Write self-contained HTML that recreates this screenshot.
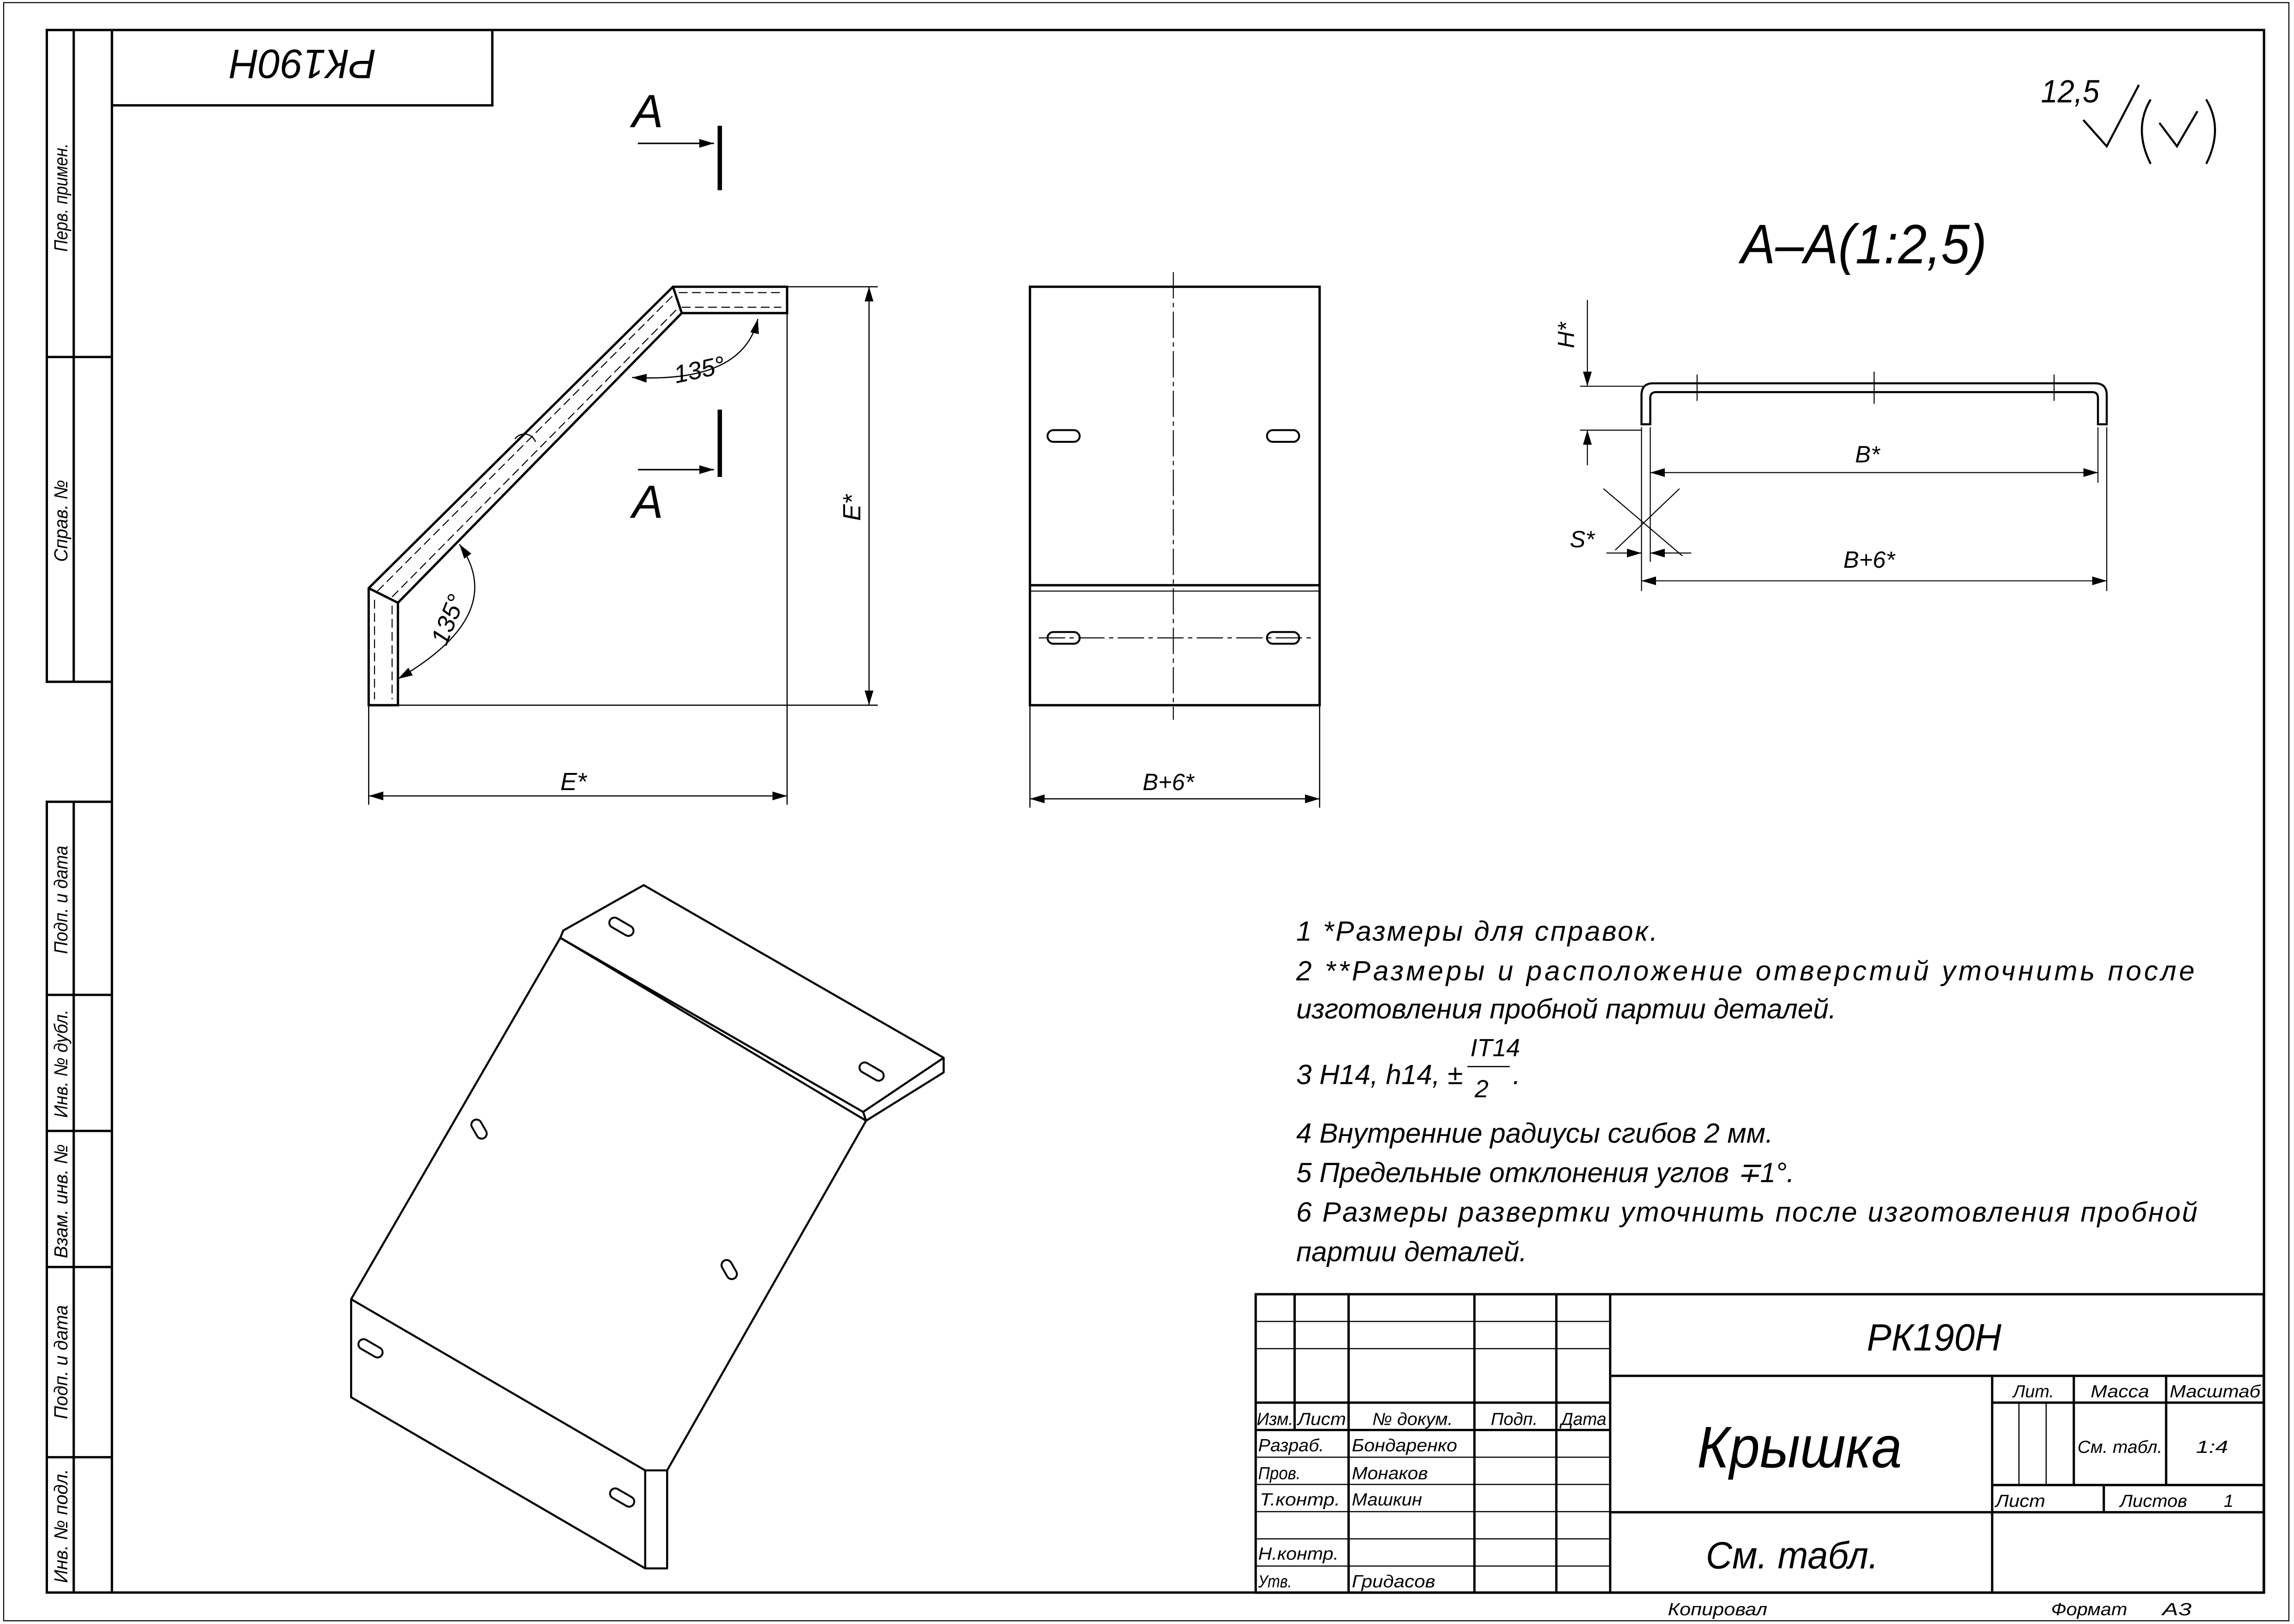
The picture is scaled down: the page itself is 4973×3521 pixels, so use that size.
<!DOCTYPE html>
<html><head><meta charset="utf-8"><style>
html,body{margin:0;padding:0;background:#fff;}
svg{display:block;}
text{font-family:"Liberation Sans",sans-serif;font-style:italic;fill:#000;}
</style></head><body>
<svg width="4973" height="3521" viewBox="0 0 1568 1110" preserveAspectRatio="none" xmlns="http://www.w3.org/2000/svg">
<defs>
<marker id="ar" viewBox="0 0 10 6" refX="10" refY="3" markerWidth="10" markerHeight="6" orient="auto-start-reverse" markerUnits="userSpaceOnUse"><path d="M0,0 L10,3 L0,6 Z" fill="#000"/></marker>
</defs>
<rect x="0" y="0" width="1568" height="1110" fill="#fff"/>
<rect x="2.5" y="1.8" width="1562" height="1106" fill="none" stroke="#000" stroke-width="0.7"/>
<g fill="none" stroke="#000" stroke-width="1.6">
<rect x="76.5" y="20.5" width="1471" height="1068"/>
<rect x="76.5" y="20.5" width="260" height="51.5"/>
<polyline points="76.5,20.5 32,20.5 32,466 76.5,466"/>
<line x1="50.4" y1="20.5" x2="50.4" y2="466"/>
<line x1="32" y1="244" x2="76.5" y2="244"/>
<polyline points="76.5,548 32,548 32,1088.5 76.5,1088.5"/>
<line x1="50.4" y1="548" x2="50.4" y2="1088.5"/>
<line x1="32" y1="680" x2="76.5" y2="680"/>
<line x1="32" y1="773" x2="76.5" y2="773"/>
<line x1="32" y1="866" x2="76.5" y2="866"/>
<line x1="32" y1="996" x2="76.5" y2="996"/>
<rect x="858.3" y="884.6" width="689" height="204"/>
<line x1="1100.6" y1="884.6" x2="1100.6" y2="1088.6"/>
<line x1="1100.6" y1="940.4" x2="1547.3" y2="940.4"/>
<line x1="858.3" y1="958.7" x2="1100.6" y2="958.7"/>
<line x1="858.3" y1="977.4" x2="1100.6" y2="977.4"/>
<line x1="1100.6" y1="1033.6" x2="1547.3" y2="1033.6"/>
<line x1="1361.7" y1="940.4" x2="1361.7" y2="1088.6"/>
<line x1="1361.7" y1="958.7" x2="1547.3" y2="958.7"/>
<line x1="1361.7" y1="1015" x2="1547.3" y2="1015"/>
<line x1="1417.5" y1="940.4" x2="1417.5" y2="1015"/>
<line x1="1480.6" y1="940.4" x2="1480.6" y2="1015"/>
<line x1="1438" y1="1015" x2="1438" y2="1033.6"/>
<line x1="921.8" y1="884.6" x2="921.8" y2="1088.6"/>
<line x1="1007.8" y1="884.6" x2="1007.8" y2="1088.6"/>
<line x1="1063.8" y1="884.6" x2="1063.8" y2="1088.6"/>
<line x1="884.9" y1="884.6" x2="884.9" y2="977.4"/>
</g>
<g stroke="#000" stroke-width="0.8" fill="none">
<line x1="858.3" y1="903.2" x2="1100.6" y2="903.2"/>
<line x1="858.3" y1="921.8" x2="1100.6" y2="921.8"/>
<line x1="858.3" y1="996" x2="1100.6" y2="996"/>
<line x1="858.3" y1="1014.6" x2="1100.6" y2="1014.6"/>
<line x1="858.3" y1="1033.2" x2="1100.6" y2="1033.2"/>
<line x1="858.3" y1="1051.8" x2="1100.6" y2="1051.8"/>
<line x1="858.3" y1="1070.4" x2="1100.6" y2="1070.4"/>
<line x1="1380" y1="958.7" x2="1380" y2="1015"/>
<line x1="1398.6" y1="958.7" x2="1398.6" y2="1015"/>
</g>
<g font-size="12">
<text x="859" y="974" textLength="25" lengthAdjust="spacingAndGlyphs">Изм.</text>
<text x="887" y="974" textLength="33" lengthAdjust="spacingAndGlyphs">Лист</text>
<text x="938" y="974" textLength="55" lengthAdjust="spacingAndGlyphs">№ докум.</text>
<text x="1019" y="974" textLength="32" lengthAdjust="spacingAndGlyphs">Подп.</text>
<text x="1067" y="974" textLength="31" lengthAdjust="spacingAndGlyphs">Дата</text>
<text x="860" y="992" textLength="45" lengthAdjust="spacingAndGlyphs">Разраб.</text>
<text x="924" y="992" textLength="72" lengthAdjust="spacingAndGlyphs">Бондаренко</text>
<text x="860" y="1011" textLength="29" lengthAdjust="spacingAndGlyphs">Пров.</text>
<text x="924" y="1011" textLength="52" lengthAdjust="spacingAndGlyphs">Монаков</text>
<text x="861" y="1029" textLength="55" lengthAdjust="spacingAndGlyphs">Т.контр.</text>
<text x="924" y="1029" textLength="48" lengthAdjust="spacingAndGlyphs">Машкин</text>
<text x="860" y="1066" textLength="55" lengthAdjust="spacingAndGlyphs">Н.контр.</text>
<text x="860" y="1085" textLength="23" lengthAdjust="spacingAndGlyphs">Утв.</text>
<text x="924" y="1085" textLength="57" lengthAdjust="spacingAndGlyphs">Гридасов</text>
<text x="1376" y="955" textLength="28" lengthAdjust="spacingAndGlyphs">Лит.</text>
<text x="1429" y="955" textLength="40" lengthAdjust="spacingAndGlyphs">Масса</text>
<text x="1483" y="955" textLength="62" lengthAdjust="spacingAndGlyphs">Масштаб</text>
<text x="1420" y="993" textLength="58" lengthAdjust="spacingAndGlyphs">См. табл.</text>
<text x="1501" y="993" textLength="22" lengthAdjust="spacingAndGlyphs">1:4</text>
<text x="1364" y="1030" textLength="34" lengthAdjust="spacingAndGlyphs">Лист</text>
<text x="1449" y="1030" textLength="46" lengthAdjust="spacingAndGlyphs">Листов</text>
<text x="1520" y="1030">1</text>
<text x="1140" y="1104" textLength="68" lengthAdjust="spacingAndGlyphs">Копировал</text>
<text x="1402" y="1104" textLength="52" lengthAdjust="spacingAndGlyphs">Формат</text>
<text x="1478" y="1104" textLength="20" lengthAdjust="spacingAndGlyphs">А3</text>
</g>
<text x="1276" y="923" font-size="26" textLength="92" lengthAdjust="spacingAndGlyphs">РК190Н</text>
<text x="1160" y="1003" font-size="40" textLength="140" lengthAdjust="spacingAndGlyphs">Крышка</text>
<text x="1166" y="1072" font-size="26" textLength="118" lengthAdjust="spacingAndGlyphs">См. табл.</text>
<text transform="translate(207,46) rotate(180)" x="-50" y="12" font-size="28" textLength="100" lengthAdjust="spacingAndGlyphs">РК190Н</text>
<g font-size="13">
<text transform="translate(46,172) rotate(-90)" textLength="74" lengthAdjust="spacingAndGlyphs">Перв. примен.</text>
<text transform="translate(46,384) rotate(-90)" textLength="56" lengthAdjust="spacingAndGlyphs">Справ. №</text>
<text transform="translate(46,652) rotate(-90)" textLength="74" lengthAdjust="spacingAndGlyphs">Подп. и дата</text>
<text transform="translate(46,764) rotate(-90)" textLength="74" lengthAdjust="spacingAndGlyphs">Инв. № дубл.</text>
<text transform="translate(46,860) rotate(-90)" textLength="78" lengthAdjust="spacingAndGlyphs">Взам. инв. №</text>
<text transform="translate(46,970) rotate(-90)" textLength="78" lengthAdjust="spacingAndGlyphs">Подп. и дата</text>
<text transform="translate(46,1082) rotate(-90)" textLength="78" lengthAdjust="spacingAndGlyphs">Инв. № подл.</text>
</g>
<text x="1395" y="70" font-size="22" textLength="40" lengthAdjust="spacingAndGlyphs">12,5</text>
<g fill="none" stroke="#000" stroke-width="1.4">
<polyline points="1424,82 1440,100 1462,58"/>
<path d="M1470,68 Q1458,88 1470,112"/>
<path d="M1508,68 Q1520,88 1508,112"/>
<polyline points="1476,84 1488,100 1502,76"/>
</g>
<text x="432" y="87" font-size="32">A</text>
<text x="432" y="354" font-size="32">A</text>
<g stroke="#000" fill="none">
<line x1="436" y1="98" x2="488" y2="98" stroke-width="1" marker-end="url(#ar)"/>
<line x1="492" y1="86" x2="492" y2="130" stroke-width="3"/>
<line x1="436" y1="321" x2="488" y2="321" stroke-width="1" marker-end="url(#ar)"/>
<line x1="492" y1="280" x2="492" y2="326" stroke-width="3"/>
</g>
<g fill="none" stroke="#000" stroke-width="1.6">
<polygon points="252,402 460,196 538,196 538,214 466,214 272,412 272,482 252,482"/>
<line x1="252" y1="402" x2="272" y2="412"/>
<line x1="460" y1="196" x2="466" y2="214"/>
</g>
<g fill="none" stroke="#000" stroke-width="0.7" stroke-dasharray="6,3">
<line x1="256" y1="410" x2="256" y2="478"/>
<line x1="268" y1="414" x2="268" y2="478"/>
<line x1="258" y1="404" x2="462" y2="200"/>
<line x1="268" y1="408" x2="464" y2="210"/>
<line x1="464" y1="200" x2="534" y2="200"/>
<line x1="466" y1="210" x2="534" y2="210"/>
</g>
<path d="M352,300 A8,8 0 0 1 366,302" fill="none" stroke="#000" stroke-width="0.8"/>
<g fill="none" stroke="#000" stroke-width="0.8">
<line x1="252" y1="482" x2="252" y2="550"/>
<line x1="538" y1="214" x2="538" y2="550"/>
<line x1="252" y1="544" x2="538" y2="544" marker-start="url(#ar)" marker-end="url(#ar)"/>
<line x1="538" y1="196" x2="600" y2="196"/>
<line x1="272" y1="482" x2="600" y2="482"/>
<line x1="594" y1="196" x2="594" y2="482" marker-start="url(#ar)" marker-end="url(#ar)"/>
<path d="M518,218 Q508,262 432,258" marker-start="url(#ar)" marker-end="url(#ar)"/>
<path d="M314,372 Q348,420 272,464" marker-start="url(#ar)" marker-end="url(#ar)"/>
</g>
<text x="383" y="540" font-size="17">E*</text>
<text transform="translate(588,356) rotate(-90)" font-size="17">E*</text>
<text transform="translate(462,262) rotate(-12)" font-size="17">135°</text>
<text transform="translate(305,442) rotate(-68)" font-size="17">135°</text>
<g fill="none" stroke="#000" stroke-width="1.6">
<rect x="704" y="196" width="198" height="286"/>
<line x1="704" y1="400" x2="902" y2="400"/>
<line x1="704" y1="404" x2="902" y2="404" stroke-width="0.7"/>
</g>
<g fill="none" stroke="#000" stroke-width="0.7" stroke-dasharray="18,3,3,3">
<line x1="802" y1="186" x2="802" y2="492"/>
<line x1="710" y1="436" x2="898" y2="436"/>
</g>
<g fill="none" stroke="#000" stroke-width="1.3">
<rect x="716" y="294" width="22" height="8" rx="4"/>
<rect x="866" y="294" width="22" height="8" rx="4"/>
<rect x="716" y="432" width="22" height="8" rx="4"/>
<rect x="866" y="432" width="22" height="8" rx="4"/>
</g>
<g fill="none" stroke="#000" stroke-width="0.8">
<line x1="704" y1="482" x2="704" y2="552"/>
<line x1="902" y1="482" x2="902" y2="552"/>
<line x1="704" y1="546" x2="902" y2="546" marker-start="url(#ar)" marker-end="url(#ar)"/>
</g>
<text x="781" y="540" font-size="16">B+6*</text>
<text x="1190" y="180" font-size="38" textLength="168" lengthAdjust="spacingAndGlyphs">A–A(1:2,5)</text>
<g fill="none" stroke="#000" stroke-width="1.4">
<path d="M1122,290 L1122,270 Q1122,262 1130,262 L1432,262 Q1440,262 1440,270 L1440,290 L1434,290 L1434,272 Q1434,268 1430,268 L1132,268 Q1128,268 1128,272 L1128,290 Z"/>
</g>
<g fill="none" stroke="#000" stroke-width="0.7">
<line x1="1160" y1="256" x2="1160" y2="274"/>
<line x1="1281" y1="254" x2="1281" y2="276"/>
<line x1="1404" y1="256" x2="1404" y2="274"/>
<line x1="1080" y1="264" x2="1124" y2="264"/>
<line x1="1080" y1="294" x2="1122" y2="294"/>
<line x1="1085" y1="205" x2="1085" y2="264" marker-end="url(#ar)"/>
<line x1="1085" y1="318" x2="1085" y2="294" marker-end="url(#ar)"/>
<line x1="1128" y1="292" x2="1128" y2="330"/>
<line x1="1434" y1="292" x2="1434" y2="330"/>
<line x1="1128" y1="323" x2="1434" y2="323" marker-start="url(#ar)" marker-end="url(#ar)"/>
<line x1="1122" y1="292" x2="1122" y2="404"/>
<line x1="1440" y1="292" x2="1440" y2="404"/>
<line x1="1122" y1="397" x2="1440" y2="397" marker-start="url(#ar)" marker-end="url(#ar)"/>
<line x1="1128" y1="330" x2="1128" y2="384"/>
<line x1="1096" y1="334" x2="1150" y2="380"/>
<line x1="1104" y1="376" x2="1148" y2="334"/>
<line x1="1098" y1="378" x2="1122" y2="378" marker-end="url(#ar)"/>
<line x1="1156" y1="378" x2="1128" y2="378" marker-end="url(#ar)"/>
</g>
<text transform="translate(1076,238) rotate(-90)" font-size="16">H*</text>
<text x="1268" y="316" font-size="16">B*</text>
<text x="1260" y="388" font-size="16">B+6*</text>
<text x="1073" y="374" font-size="16">S*</text>
<g font-size="19">
<text x="886" y="643" textLength="247" lengthAdjust="spacing">1  *Размеры для справок.</text>
<text x="886" y="670" textLength="614" lengthAdjust="spacing">2  **Размеры   и   расположение   отверстий   уточнить   после</text>
<text x="886" y="696">изготовления пробной партии деталей.</text>
<text x="886" y="741">3  H14,  h14,  ±</text>
<text x="1005" y="722" font-size="17">IT14</text>
<text x="1008" y="750" font-size="17">2</text>
<text x="1034" y="741">.</text>
<text x="886" y="781">4  Внутренние радиусы сгибов 2 мм.</text>
<text x="886" y="808">5  Предельные отклонения углов ∓1°.</text>
<text x="886" y="835" textLength="616" lengthAdjust="spacing">6  Размеры   развертки   уточнить   после   изготовления   пробной</text>
<text x="886" y="862">партии деталей.</text>
</g>
<line x1="1003" y1="729" x2="1032" y2="729" stroke="#000" stroke-width="0.8"/>
<g fill="none" stroke="#000" stroke-width="1.4" stroke-linejoin="round">
<polygon points="385,636 440,605 645,723 645,733 592,766 383,641"/>
<line x1="383" y1="641" x2="590" y2="760"/>
<line x1="590" y1="760" x2="645" y2="723"/>
<polyline points="383,641 240,888 441,1005"/>
<polyline points="592,766 456,1005 456,1072 441,1072 240,955 240,888"/>
<line x1="441" y1="1005" x2="441" y2="1072"/>
<line x1="441" y1="1005" x2="456" y2="1005"/>
<line x1="590" y1="760" x2="592" y2="766"/>
</g>
<g fill="none" stroke="#000" stroke-width="1.3">
<rect x="416" y="630" width="18" height="7" rx="3.5" transform="rotate(30 425 633)"/>
<rect x="587" y="729" width="18" height="7" rx="3.5" transform="rotate(30 596 732)"/>
<rect x="320" y="768" width="14" height="7" rx="3.5" transform="rotate(60 327 772)"/>
<rect x="491" y="864" width="14" height="7" rx="3.5" transform="rotate(60 498 868)"/>
<rect x="244" y="918" width="18" height="7" rx="3.5" transform="rotate(30 253 922)"/>
<rect x="416" y="1020" width="18" height="7" rx="3.5" transform="rotate(30 425 1024)"/>
</g>
</svg>
</body></html>
